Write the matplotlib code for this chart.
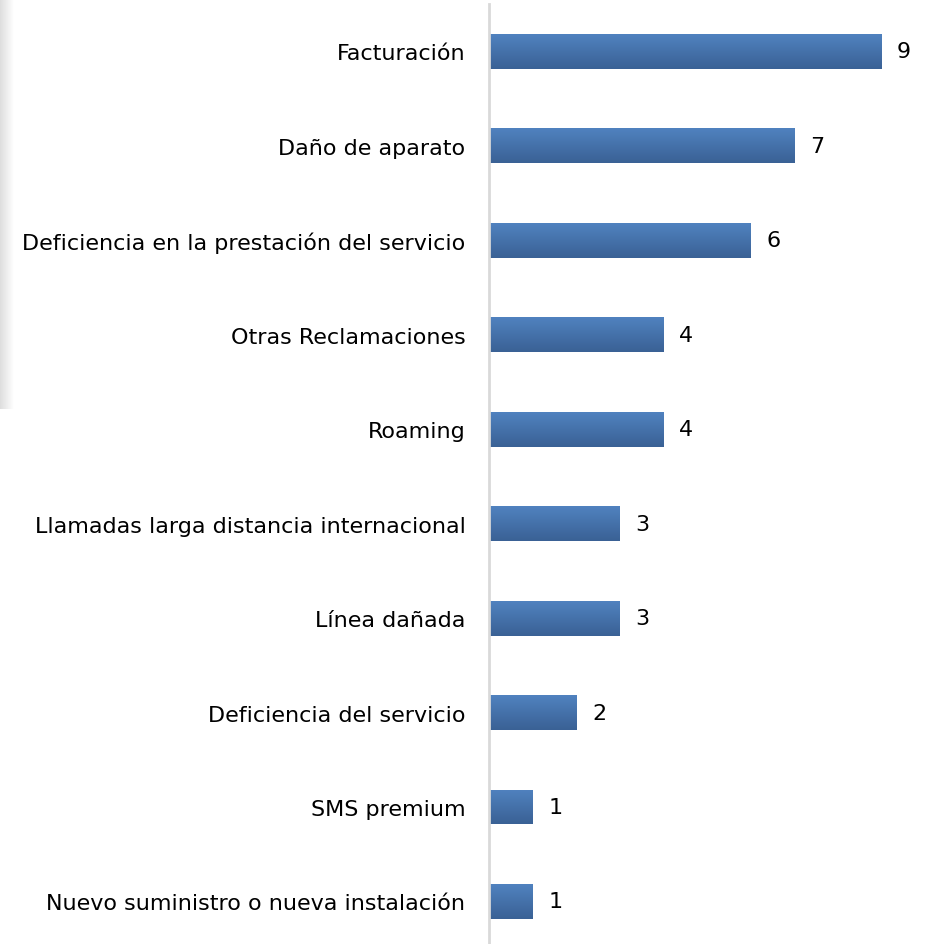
import numpy as np
import matplotlib.pyplot as plt
from matplotlib.colors import LinearSegmentedColormap

# categories and counts (top to bottom)
categorias = ['Facturación', 'Daño de aparato', 'Deficiencia en la prestación del servicio',
              'Otras Reclamaciones', 'Roaming', 'Llamadas larga distancia internacional',
              'Línea dañada', 'Deficiencia del servicio', 'SMS premium',
              'Nuevo suministro o nueva instalación']
valores = [9, 7, 6, 4, 4, 3, 3, 2, 1, 1]

plt.rcParams['font.family'] = ['DejaVu Sans']

W, H = 927, 945
fig = plt.figure(figsize=(W / 100, H / 100), dpi=100)

# faint grey shadow on the left edge
sh = fig.add_axes([0, 1 - 410 / H, 14 / W, 410 / H])
sh.imshow(np.linspace(0, 1, 50).reshape(1, -1), aspect='auto', cmap=LinearSegmentedColormap.from_list('s', ['#dedede', '#ffffff']),
          extent=[0, 1, 0, 1])
sh.axis('off')

ax = fig.add_axes([489 / W, 0, (925 - 489) / W, 1 - 5 / H])
y = np.arange(len(categorias))
bars = ax.barh(y, valores, height=0.37, color='#4a76ae', linewidth=0)

# vertical gradient inside each bar
grad = LinearSegmentedColormap.from_list('g', ['#5082bf', '#3a6195'])
for b in bars:
    x0, y0, w, h = b.get_x(), b.get_y(), b.get_width(), b.get_height()
    im = ax.imshow(np.linspace(0, 1, 64).reshape(-1, 1), cmap=grad, aspect='auto',
                   extent=[x0, x0 + w, y0 + h, y0], zorder=2)
    im.set_clip_path(b)

for yi, v in zip(y, valores):
    ax.text(v + 0.36, yi, str(v), va='center', ha='left', fontsize=16, color='black')

ax.set_xlim(0, 10)
ax.set_ylim(9.45, -0.5)
ax.set_yticks(y)
ax.set_yticklabels(categorias, fontsize=16)
ax.tick_params(axis='y', length=0, pad=17)
ax.set_xticks([])
for s in ['top', 'right', 'bottom']:
    ax.spines[s].set_visible(False)
ax.spines['left'].set_color('#d9d9d9')
ax.spines['left'].set_linewidth(2)

fig.savefig('out.png', dpi=100)
